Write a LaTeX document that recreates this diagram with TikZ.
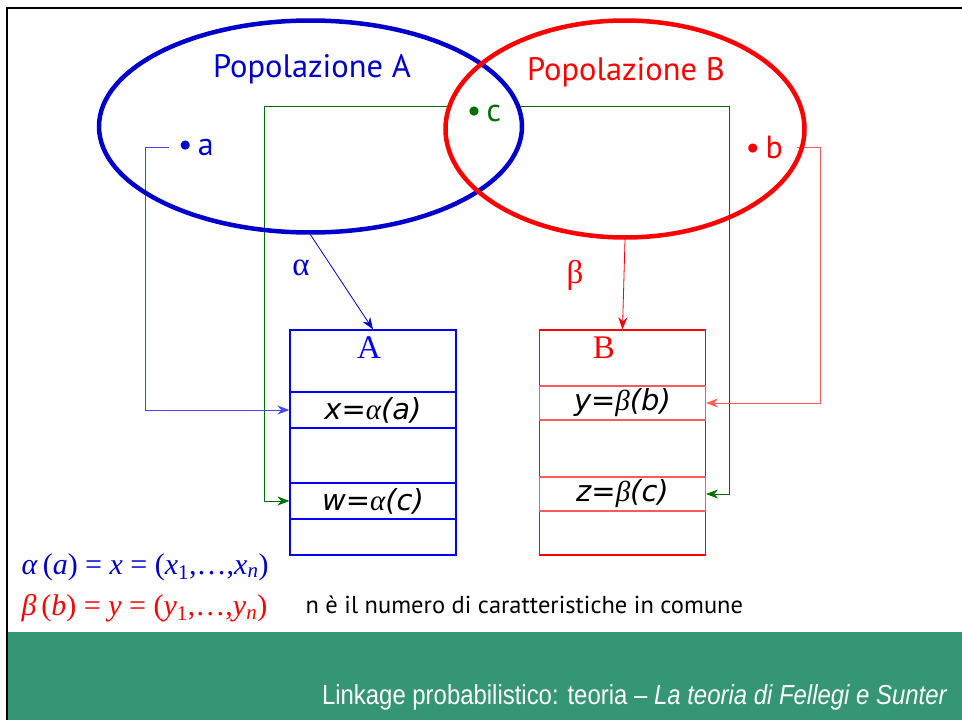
\documentclass[tikz,border=0pt]{standalone}
\usepackage{fontspec}
\setmainfont{PT Sans}
\newfontfamily\arialf[FakeStretch=0.87]{Liberation Sans}
\newfontfamily\timesf{Liberation Serif}
\newfontfamily\rowf{DejaVu Sans}
\usetikzlibrary{shapes.geometric, arrows.meta, positioning}

\definecolor{popblue}{RGB}{0,0,204}
\definecolor{linkblue}{RGB}{70,70,255}
\definecolor{linkgreen}{RGB}{0,110,0}
\definecolor{rowred}{RGB}{255,90,90}
\definecolor{footgreen}{RGB}{52,150,116}

\begin{document}
\begin{tikzpicture}[x=1pt, y=-1pt,
  pop/.style={draw, ellipse, line width=4.5pt, inner sep=0pt},
  rec/.style={draw, line width=1.2pt, minimum width=166pt, inner sep=0pt},
  row/.style={rec, font=\rowf\fontsize{29}{32}\selectfont\itshape},
  pt/.style={fill=white, inner sep=2pt, font=\fontsize{32}{35}\selectfont},
  lnk/.style={line width=0.8pt, -{Stealth[length=12pt, width=9pt]}},
  big/.style={font=\fontsize{32.5}{36}\selectfont}
]
  \useasboundingbox (0,0) rectangle (962,720);

  % slide frame and footer
  \fill[footgreen] (8,632) rectangle (962,720);
  \draw[line width=2.5pt] (7,720) -- (7,8) -- (962,8);
  \node[anchor=east, text=white, font=\arialf\fontsize{27.5}{30}\selectfont] (foot)
       at (951,697) {Linkage probabilistico: teoria – \textit{La teoria di Fellegi e Sunter}};

  % the two files
  \node[rec, draw=blue, minimum height=225pt] (boxA) at (373,442.5) {};
  \node[rec, draw=red,  minimum height=225pt] (boxB) at (622.5,442.5) {};
  \node[row, draw=blue,   minimum height=36pt] (rowXa) at (373,410) {x=\textup{\timesf\itshape α}(a)};
  \node[row, draw=blue,   minimum height=36pt] (rowWc) at (373,501) {w=\textup{\timesf\itshape α}(c)};
  \node[row, draw=rowred, minimum height=34pt] (rowYb) at (622.5,403) {y=\textup{\timesf\itshape β}(b)};
  \node[row, draw=rowred, minimum height=34pt] (rowZc) at (622.5,494) {z=\textup{\timesf\itshape β}(c)};
  \node[text=blue, font=\timesf\fontsize{33}{36}\selectfont] (nameA) at (369,348) {A};
  \node[text=red,  font=\timesf\fontsize{33}{36}\selectfont] (nameB) at (604,348) {B};

  % c belongs to both populations
  \coordinate (cTop) at (484,106);
  \draw[lnk, linkgreen] (cTop) -| ([xshift=-25pt]rowWc.west) -- (rowWc.west);
  \draw[lnk, linkgreen] (cTop) -| ([xshift=23pt]rowZc.east) -- (rowZc.east);

  \node[pt, text=popblue, anchor=west, inner xsep=9pt] (ptA) at (169,147) {\textbullet\,a};
  \node[pt, text=red, anchor=east, inner xsep=14pt] (ptB) at (797,147) {\textbullet\,b};
  \node[pt, text=linkgreen, minimum width=64pt] (ptC) at (484,113) {\textbullet\,c};

  \draw[lnk, linkblue] (ptA.west) -- ++(-24,0) |- (rowXa.west);
  \draw[lnk, rowred]   (ptB.east) -- ++(23,0)  |- (rowYb.east);

  % populations
  \node[pop, draw=popblue, minimum width=423pt, minimum height=212pt] (popA) at (310.5,126.5) {};
  \node[pop, draw=red,     minimum width=359pt, minimum height=217pt] (popB) at (625,129) {};
  \node[big, text=popblue] (labA) at (312,69) {Popolazione A};
  \node[big, text=red]     (labB) at (626,72) {Popolazione B};

  \draw[lnk, popblue] (popA.south) -- (boxA.north);
  \draw[lnk, red]     (popB.south) -- (boxB.north);
  \node[text=popblue, font=\timesf\fontsize{33}{34}\selectfont] (alpha) at (301,268) {α};
  \node[text=red,     font=\timesf\fontsize{33}{34}\selectfont] (beta)  at (575,275) {β};

  % vectors of characteristics
  \node[anchor=west, text=popblue, font=\timesf\fontsize{30}{34}\selectfont] (vecA) at (18,567)
       {\textit{α}\,(\textit{a}) = \textit{x} = (\textit{x}\textsubscript{1},…,\textit{x}\textsubscript{\textit{n}})};
  \node[anchor=west, text=red, font=\timesf\fontsize{30}{34}\selectfont] (vecB) at (18,608)
       {\textit{β}\,(\textit{b}) = \textit{y} = (\textit{y}\textsubscript{1},…,\textit{y}\textsubscript{\textit{n}})};
  \node[anchor=west, font=\fontsize{24.5}{27}\selectfont] (note) at (302,605)
       {n è il numero di caratteristiche in comune};
\end{tikzpicture}
\end{document}
